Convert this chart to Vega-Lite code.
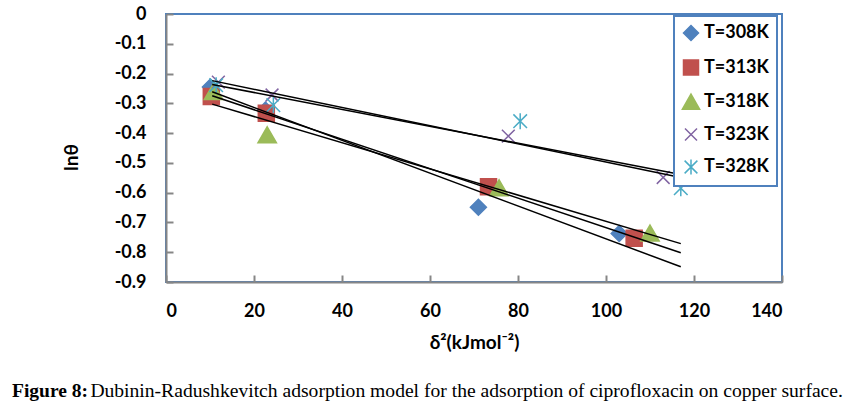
{
  "$schema": "https://vega.github.io/schema/vega-lite/v6.json",
  "width": 616,
  "height": 268,
  "autosize": "none",
  "padding": {"left": 166, "top": 14, "right": 73, "bottom": 122},
  "background": "white",
  "config": {
    "view": {"stroke": "#4F81BD", "strokeWidth": 2},
    "axis": {
      "grid": false,
      "domainColor": "#868686",
      "domainWidth": 2,
      "tickColor": "#868686",
      "tickWidth": 2,
      "tickSize": -7,
      "labelOverlap": false,
      "labelFont": "Lato",
      "labelFontWeight": "bold",
      "labelFontSize": 18,
      "labelColor": "black",
      "titleFont": "Lato",
      "titleFontWeight": "bold",
      "titleFontSize": 19,
      "titleColor": "black"
    },
    "legend": {
      "orient": "none",
      "legendX": 508,
      "legendY": 2,
      "strokeColor": "#4F81BD",
      "strokeWidth": 2,
      "fillColor": "white",
      "padding": 8,
      "labelFont": "Lato",
      "labelFontWeight": "bold",
      "labelFontSize": 18,
      "labelColor": "black",
      "labelOffset": 4,
      "rowPadding": 12.5,
      "symbolSize": 225,
      "symbolStrokeWidth": 1.5
    }
  },
  "title": {
    "text": "Figure 8:",
    "subtitle": "\u200b\u00a0\u00a0\u00a0\u00a0\u00a0\u00a0\u00a0\u00a0\u00a0\u00a0\u00a0\u00a0\u00a0\u00a0\u00a0\u00a0Dubinin-Radushkevitch adsorption model for the adsorption of ciprofloxacin on copper surface.",
    "orient": "bottom",
    "anchor": "start",
    "frame": "group",
    "dx": -154,
    "offset": 30,
    "font": "Liberation Serif",
    "fontSize": 19.5,
    "fontWeight": "bold",
    "color": "black",
    "subtitleFont": "Liberation Serif",
    "subtitleFontSize": 19.6,
    "subtitleFontWeight": "normal",
    "subtitleColor": "black",
    "subtitlePadding": -19.5
  },
  "data": {
    "values": [
      {"T": "T=308K", "x": 10.1, "y": -0.245},
      {"T": "T=308K", "x": 22.6, "y": -0.323},
      {"T": "T=308K", "x": 71.0, "y": -0.649},
      {"T": "T=308K", "x": 103.0, "y": -0.737},
      {"T": "T=313K", "x": 10.3, "y": -0.277},
      {"T": "T=313K", "x": 22.8, "y": -0.333},
      {"T": "T=313K", "x": 73.3, "y": -0.580},
      {"T": "T=313K", "x": 106.4, "y": -0.753},
      {"T": "T=318K", "x": 10.8, "y": -0.262},
      {"T": "T=318K", "x": 23.0, "y": -0.407},
      {"T": "T=318K", "x": 75.7, "y": -0.585},
      {"T": "T=318K", "x": 110.0, "y": -0.737},
      {"T": "T=323K", "x": 11.9, "y": -0.229},
      {"T": "T=323K", "x": 24.1, "y": -0.272},
      {"T": "T=323K", "x": 77.8, "y": -0.410},
      {"T": "T=323K", "x": 113.0, "y": -0.549},
      {"T": "T=328K", "x": 11.4, "y": -0.239},
      {"T": "T=328K", "x": 24.4, "y": -0.306},
      {"T": "T=328K", "x": 80.5, "y": -0.360},
      {"T": "T=328K", "x": 117.0, "y": -0.585}
    ]
  },
  "layer": [
    {
      "mark": {"type": "point", "filled": true, "opacity": 1, "strokeWidth": 1.5, "size": 256},
      "encoding": {
        "x": {
          "field": "x", "type": "quantitative",
          "scale": {"domain": [0, 140], "nice": false, "zero": false},
          "axis": {
            "values": [0, 20, 40, 60, 80, 100, 120, 140],
            "tickCount": 8,
            "labelOverlap": false,
            "labelPadding": 27,
            "title": "δ²(kJmol⁻²)",
            "titlePadding": 13
          }
        },
        "y": {
          "field": "y", "type": "quantitative",
          "scale": {"domain": [-0.9, 0], "nice": false, "zero": false},
          "axis": {
            "values": [-0.9, -0.8, -0.7, -0.6, -0.5, -0.4, -0.3, -0.2, -0.1, 0],
            "tickCount": 10,
            "labelOverlap": false,
            "format": ".1~f",
            "labelExpr": "replace(datum.label, '\u2212', '-')",
            "labelPadding": 27,
            "title": "lnθ",
            "titleAngle": -90,
            "titleAlign": "center",
            "titleBaseline": "middle",
            "titleX": -95,
            "titleY": 143
          }
        },
        "fill": {
          "field": "T", "type": "nominal",
          "scale": {"range": ["#4F81BD", "#C0504D", "#9BBB59", "#8064A2", "#4BACC6"]},
          "legend": {"title": null}
        },
        "stroke": {
          "field": "T", "type": "nominal",
          "scale": {"range": ["#4F81BD", "#C0504D", "#9BBB59", "#8064A2", "#4BACC6"]},
          "legend": {"title": null}
        },
        "shape": {
          "field": "T", "type": "nominal",
          "scale": {"range": ["diamond", "square", "M0,-1.05L1.15,0.95L-1.15,0.95Z", "M-0.8,-0.8L0.8,0.8M0.8,-0.8L-0.8,0.8", "M-0.85,-0.85L0.85,0.85M0.85,-0.85L-0.85,0.85M0,-1L0,1"]},
          "legend": {"title": null}
        }
      }
    },
    {
      "transform": [
        {"regression": "y", "on": "x", "groupby": ["T"], "extent": [10.5, 117]}
      ],
      "mark": {"type": "line", "color": "black", "strokeWidth": 1.5},
      "encoding": {
        "x": {"field": "x", "type": "quantitative"},
        "y": {"field": "y", "type": "quantitative"},
        "detail": {"field": "T", "type": "nominal"}
      }
    }
  ]
}
